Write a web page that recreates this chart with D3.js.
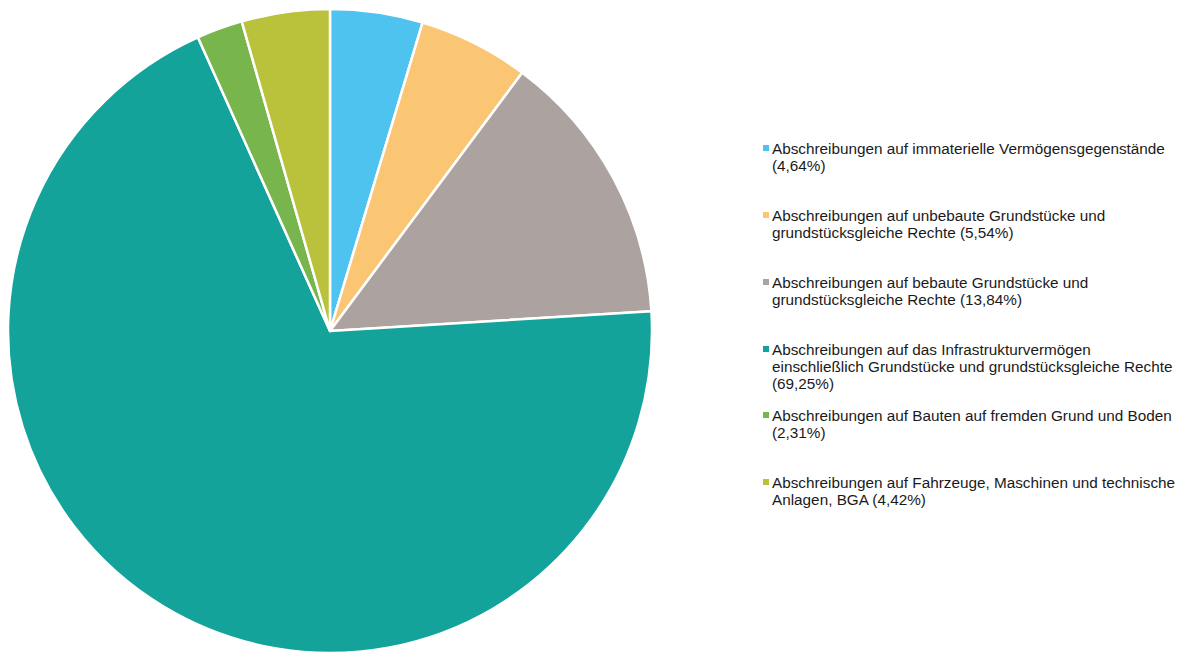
<!DOCTYPE html>
<html><head><meta charset="utf-8">
<script src="https://cdn.jsdelivr.net/npm/d3@7"></script>
<style>body{margin:0;background:#fff}</style>
</head><body>
<svg id="c" width="1185" height="655"></svg>
<script>
const categories = [
  "Abschreibungen auf immaterielle Vermögensgegenstände",
  "Abschreibungen auf unbebaute Grundstücke und grundstücksgleiche Rechte",
  "Abschreibungen auf bebaute Grundstücke und grundstücksgleiche Rechte",
  "Abschreibungen auf das Infrastrukturvermögen einschließlich Grundstücke und grundstücksgleiche Rechte",
  "Abschreibungen auf Bauten auf fremden Grund und Boden",
  "Abschreibungen auf Fahrzeuge, Maschinen und technische Anlagen, BGA"
];
const values = [4.64, 5.54, 13.84, 69.25, 2.31, 4.42];
const legendLines = [
  ["Abschreibungen auf immaterielle Vermögensgegenstände", "(4,64%)"],
  ["Abschreibungen auf unbebaute Grundstücke und", "grundstücksgleiche Rechte (5,54%)"],
  ["Abschreibungen auf bebaute Grundstücke und", "grundstücksgleiche Rechte (13,84%)"],
  ["Abschreibungen auf das Infrastrukturvermögen", "einschließlich Grundstücke und grundstücksgleiche Rechte", "(69,25%)"],
  ["Abschreibungen auf Bauten auf fremden Grund und Boden", "(2,31%)"],
  ["Abschreibungen auf Fahrzeuge, Maschinen und technische", "Anlagen, BGA (4,42%)"]
];
const colors = ["#4ec3f0", "#fbc674", "#aca3a0", "#14a39a", "#78b54c", "#bac23c"];

const svg = d3.select("#c");
const cx = 330, cy = 331, r = 322;
const pie = d3.pie().sort(null).value(d => d);
const arc = d3.arc().innerRadius(0).outerRadius(r);
const color = d3.scaleOrdinal().domain(d3.range(values.length)).range(colors);
svg.append("g").attr("transform", `translate(${cx},${cy})`)
  .selectAll("path").data(pie(values)).join("path")
  .attr("d", arc).attr("fill", (d, i) => color(i))
  .attr("stroke", "#fff").attr("stroke-width", 2.5).attr("stroke-linejoin", "round");

const legendY = [149, 216, 283, 350, 416, 483];
const lg = svg.append("g").style("font-family", "'Liberation Sans', Arial, sans-serif").style("font-size", "15.3px").attr("fill", "#1a1a1a");
legendLines.forEach((lines, i) => {
  const g = lg.append("g").attr("transform", `translate(0,${legendY[i]})`);
  g.append("rect").attr("x", 763).attr("y", -4).attr("width", 6).attr("height", 6).attr("fill", color(i));
  const t = g.append("text").attr("x", 772).attr("y", 5);
  lines.forEach((l, j) => t.append("tspan").attr("x", 772).attr("dy", j ? 17 : 0).text(l));
});
</script>
</body></html>
